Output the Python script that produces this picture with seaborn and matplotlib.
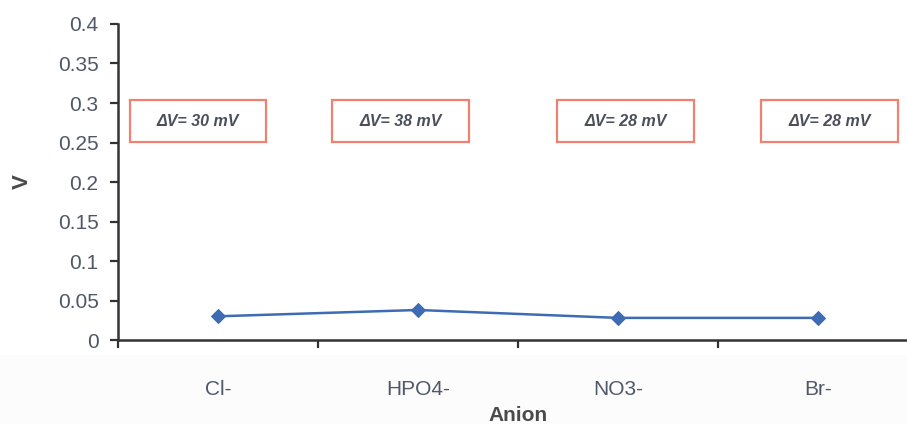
import matplotlib
matplotlib.use("Agg")
import matplotlib.pyplot as plt
import matplotlib.patches as mpatches
import seaborn as sns
import pandas as pd
from matplotlib.ticker import FixedLocator, NullFormatter

anions = ["Cl-", "HPO4-", "NO3-", "Br-"]
voltage = [0.030, 0.038, 0.028, 0.028]
delta_mv = [30, 38, 28, 28]
y_ticks = [0, 0.05, 0.1, 0.15, 0.2, 0.25, 0.3, 0.35, 0.4]
y_tick_labels = ["0", "0.05", "0.1", "0.15", "0.2", "0.25", "0.3", "0.35", "0.4"]

sns.set_theme(style="white")
plt.rcParams["font.family"] = ["Liberation Sans", "DejaVu Sans"]

df = pd.DataFrame({"Anion": anions, "V": voltage})

fig = plt.figure(figsize=(9.07, 4.24), dpi=100)
fig.patch.set_facecolor("#fcfcfc")
ax = fig.add_axes([0.1301, 0.1981, 0.882, 0.7453])
ax.set_facecolor("white")
# white band behind the plot area, faintly grey figure below it
fig.patches.append(mpatches.Rectangle((0, 0.163), 1, 0.837, transform=fig.transFigure,
                                      facecolor="white", edgecolor="none", zorder=-10))

line_color = "#3d6cb4"
sns.lineplot(data=df, x="Anion", y="V", sort=False, ax=ax, color=line_color,
             linewidth=1.8, marker="D", markersize=7, markeredgecolor=line_color,
             markerfacecolor=line_color)

ax.set_xlim(-0.5, 3.5)
ax.set_ylim(0, 0.4)
ax.set_yticks(y_ticks)
ax.set_yticklabels(y_tick_labels)

# category boundaries carry the tick marks, labels sit at category centres
ax.xaxis.set_minor_locator(FixedLocator([-0.5, 0.5, 1.5, 2.5, 3.5]))
ax.xaxis.set_minor_formatter(NullFormatter())
ax.tick_params(axis="x", which="major", length=0, pad=29, labelsize=15, labelcolor="#4f5866")
ax.tick_params(axis="x", which="minor", direction="out", length=6, width=1.6,
               color="#333333", bottom=True)
ax.tick_params(axis="y", which="major", direction="out", length=6, width=1.6,
               color="#333333", left=True, pad=8, labelsize=15, labelcolor="#4f5866")

for side in ("top", "right"):
    ax.spines[side].set_visible(False)
for side in ("left", "bottom"):
    ax.spines[side].set_color("#333333")
    ax.spines[side].set_linewidth(1.8)

ax.set_xlabel("Anion", fontsize=15, fontweight="bold", color="#4a4a4a", labelpad=5)
ax.set_ylabel("V", fontsize=16, fontweight="bold", color="#4a4a4a", labelpad=18)

# ΔV annotation boxes
box_centres = [-0.10, 0.915, 2.04, 3.06]
box_w, box_h, box_y = 0.685, 0.053, 0.277
for xc, mv in zip(box_centres, delta_mv):
    ax.add_patch(mpatches.Rectangle((xc - box_w / 2, box_y - box_h / 2), box_w, box_h,
                                    facecolor="white", edgecolor="#f08070", linewidth=1.6,
                                    zorder=3))
    ax.text(xc, box_y, f"ΔV= {mv} mV", ha="center", va="center", fontsize=11.5,
            fontweight="bold", fontstyle="italic", color="#4a4f5a", zorder=4)

fig.savefig("out.png", dpi=100)
